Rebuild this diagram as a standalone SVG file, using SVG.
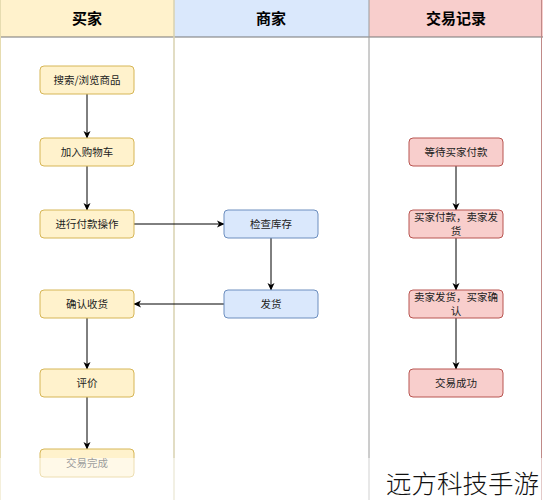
<svg xmlns="http://www.w3.org/2000/svg" width="543" height="500" viewBox="0 0 543 500">
<defs>
<marker id="arr" markerWidth="8" markerHeight="8" refX="7" refY="4" orient="auto" markerUnits="userSpaceOnUse">
<path d="M0,0.5 L7.5,4 L0,7.5 L2,4 Z" fill="#000"/>
</marker>
<style>
.hd{font-family:"Noto Sans CJK SC","Liberation Sans",sans-serif;font-size:15px;font-weight:bold;fill:#000;text-anchor:middle}
.t{font-family:"Noto Sans CJK SC","Liberation Sans",sans-serif;font-size:10.5px;fill:#222;text-anchor:middle}
.y{fill:#fff2cc;stroke:#d6b656;stroke-width:1}
.b{fill:#dae8fc;stroke:#6c8ebf;stroke-width:1}
.p{fill:#f8cecc;stroke:#b85450;stroke-width:1}
.e{stroke:#000;stroke-width:1;fill:none;marker-end:url(#arr)}
</style>
</defs>
<rect width="543" height="500" fill="#fff"/>
<g id="lanes">
<rect x="0" y="0" width="174" height="37" fill="#fff2cc"/>
<rect x="174" y="0" width="195" height="37" fill="#dae8fc"/>
<rect x="369" y="0" width="174" height="37" fill="#f8cecc"/>
<line x1="0" y1="37" x2="543" y2="37" stroke="#777" stroke-width="1"/>
<line x1="174" y1="0" x2="174" y2="500" stroke="#d9d2b0" stroke-width="1.5"/>
<line x1="369" y1="0" x2="369" y2="500" stroke="#9a9a9a" stroke-width="1"/>
<line x1="541.5" y1="0" x2="541.5" y2="500" stroke="#c08a88" stroke-width="1"/>
<line x1="0.5" y1="0" x2="0.5" y2="500" stroke="#e6dcb0" stroke-width="1"/>
<text class="hd" x="87" y="24">买家</text>
<text class="hd" x="271" y="24">商家</text>
<text class="hd" x="456" y="24">交易记录</text>
</g>
<g id="connectors">
<line class="e" x1="87" y1="94" x2="87" y2="138"/>
<line class="e" x1="87" y1="166" x2="87" y2="210"/>
<line class="e" x1="134" y1="224" x2="224" y2="224"/>
<line class="e" x1="271" y1="238" x2="271" y2="290"/>
<line class="e" x1="224" y1="304" x2="134" y2="304"/>
<line class="e" x1="87" y1="318" x2="87" y2="369"/>
<line class="e" x1="87" y1="397" x2="87" y2="449"/>
<line class="e" x1="456" y1="166" x2="456" y2="210"/>
<line class="e" x1="456" y1="238" x2="456" y2="290"/>
<line class="e" x1="456" y1="318" x2="456" y2="369"/>
</g>
<g id="n1"><rect class="y" x="40" y="66" width="94" height="28" rx="4"/><text class="t" x="87" y="84">搜索/浏览商品</text></g>
<g id="n2"><rect class="y" x="40" y="138" width="94" height="28" rx="4"/><text class="t" x="87" y="156">加入购物车</text></g>
<g id="n3"><rect class="y" x="40" y="210" width="94" height="28" rx="4"/><text class="t" x="87" y="228">进行付款操作</text></g>
<g id="n4"><rect class="y" x="40" y="290" width="94" height="28" rx="4"/><text class="t" x="87" y="308">确认收货</text></g>
<g id="n5"><rect class="y" x="40" y="369" width="94" height="28" rx="4"/><text class="t" x="87" y="387">评价</text></g>
<g id="n6"><rect class="y" x="40" y="449" width="94" height="28" rx="4"/><text class="t" x="87" y="467">交易完成</text></g>
<g id="m1"><rect class="b" x="224" y="210" width="94" height="28" rx="4"/><text class="t" x="271" y="228">检查库存</text></g>
<g id="m2"><rect class="b" x="224" y="290" width="94" height="28" rx="4"/><text class="t" x="271" y="308">发货</text></g>
<g id="r1"><rect class="p" x="409" y="138" width="94" height="28" rx="4"/><text class="t" x="456" y="156">等待买家付款</text></g>
<g id="r2"><rect class="p" x="409" y="210" width="94" height="28" rx="4"/><text class="t" x="456" y="221">买家付款，卖家发</text><text class="t" x="456" y="235">货</text></g>
<g id="r3"><rect class="p" x="409" y="290" width="94" height="28" rx="4"/><text class="t" x="456" y="301">卖家发货，买家确</text><text class="t" x="456" y="315">认</text></g>
<g id="r4"><rect class="p" x="409" y="369" width="94" height="28" rx="4"/><text class="t" x="456" y="387">交易成功</text></g>
<rect x="0" y="458" width="543" height="42" fill="#fff" opacity="0.55"/>
<text x="386" y="493" font-family="Noto Sans CJK SC, sans-serif" font-size="25.5" fill="#111" font-weight="300">远方科技手游</text>
</svg>
